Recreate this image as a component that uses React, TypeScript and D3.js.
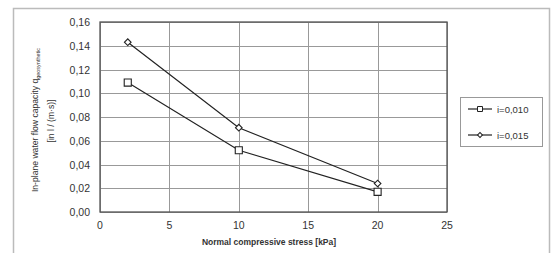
import React, { useEffect, useRef } from 'react'
import * as d3 from 'd3'

const stress = [2, 10, 20]
const flow010 = [0.109, 0.052, 0.017]
const flow015 = [0.143, 0.071, 0.024]
const seriesNames = ['i=0,010', 'i=0,015']
const xTicks = [0, 5, 10, 15, 20, 25]
const yTicks = [0, 0.02, 0.04, 0.06, 0.08, 0.1, 0.12, 0.14, 0.16]

const W = 552
const H = 253
const margin = { left: 100, right: 105, top: 22, bottom: 41 }
const FONT = 'Liberation Sans, Arial, sans-serif'
const INK = '#333'

export default function App() {
  const ref = useRef<SVGSVGElement>(null)

  useEffect(() => {
    const svg = d3.select(ref.current)
    svg.selectAll('*').remove()

    const x = d3.scaleLinear().domain([0, 25]).range([margin.left, W - margin.right])
    const y = d3.scaleLinear().domain([0, 0.16]).range([H - margin.bottom, margin.top])
    const fmt = (v: number) => d3.format('.2f')(v).replace('.', ',')

    svg.append('rect').attr('width', W).attr('height', H).attr('fill', '#fff')

    // scanned frame around the whole chart
    svg.append('rect')
      .attr('x', 13.5).attr('y', 8.5).attr('width', 536).attr('height', 250)
      .attr('fill', 'none').attr('stroke', '#bbb').attr('stroke-width', 1.5)

    // grid
    const g = svg.append('g')
    g.selectAll('line.gy').data(yTicks).join('line')
      .attr('x1', x(0)).attr('x2', x(25))
      .attr('y1', (d) => Math.round(y(d)) + 0.5).attr('y2', (d) => Math.round(y(d)) + 0.5)
      .attr('stroke', '#999').attr('stroke-width', 1)
    g.selectAll('line.gx').data(xTicks).join('line')
      .attr('y1', y(0)).attr('y2', y(0.16))
      .attr('x1', (d) => Math.round(x(d)) + 0.5).attr('x2', (d) => Math.round(x(d)) + 0.5)
      .attr('stroke', '#999').attr('stroke-width', 1)

    svg.append('rect')
      .attr('x', x(0)).attr('y', y(0.16))
      .attr('width', x(25) - x(0)).attr('height', y(0) - y(0.16))
      .attr('fill', 'none').attr('stroke', '#555').attr('stroke-width', 1.3)

    // tick labels
    svg.append('g').selectAll('text').data(yTicks).join('text')
      .attr('x', x(0) - 10).attr('y', (d) => y(d) + 4)
      .attr('text-anchor', 'end').attr('font-family', FONT).attr('font-size', 10.5)
      .attr('fill', INK).text(fmt)
    svg.append('g').selectAll('text').data(xTicks).join('text')
      .attr('x', (d) => x(d)).attr('y', y(0) + 17)
      .attr('text-anchor', 'middle').attr('font-family', FONT).attr('font-size', 10.5)
      .attr('fill', INK).text((d) => d)

    svg.append('text')
      .attr('x', 269).attr('y', H - 8)
      .attr('text-anchor', 'middle').attr('font-family', FONT).attr('font-size', 8.5)
      .attr('font-weight', 'bold').attr('fill', INK)
      .text('Normal compressive stress [kPa]')

    const yt = svg.append('text')
      .attr('transform', 'translate(38,120) rotate(-90)')
      .attr('text-anchor', 'middle').attr('font-family', FONT).attr('font-size', 8.6)
      .attr('fill', INK)
    yt.append('tspan').text('In-plane water flow capacity q')
    yt.append('tspan').attr('font-size', 5.5).attr('dy', 2).text('geosynthetic')
    svg.append('text')
      .attr('transform', 'translate(54,121) rotate(-90)')
      .attr('text-anchor', 'middle').attr('font-family', FONT).attr('font-size', 8.6)
      .attr('fill', INK).text('[in l / (m·s)]')

    const line = d3.line<number>().x((_, i) => x(stress[i])).y((d) => y(d))
    const series = [flow010, flow015]
    const square = d3.symbol().type(d3.symbolSquare).size(50)
    const diamond = d3.symbol().type(d3.symbolSquare).size(22)
    const squareSmall = d3.symbol().type(d3.symbolSquare).size(25)
    const diamondSmall = d3.symbol().type(d3.symbolSquare).size(12)
    const rot = (si: number) => (si === 0 ? '' : ' rotate(45)')

    series.forEach((vals, si) => {
      svg.append('path').attr('d', line(vals)).attr('fill', 'none')
        .attr('stroke', '#222').attr('stroke-width', 1.2)
      svg.append('g').selectAll('path').data(vals).join('path')
        .attr('d', si === 0 ? square() : diamond())
        .attr('transform', (d, i) => `translate(${x(stress[i])},${y(d)})${rot(si)}`)
        .attr('fill', '#fff').attr('stroke', '#222').attr('stroke-width', 1.1)
    })

    // legend
    const lg = svg.append('g')
    lg.append('rect').attr('x', 460.5).attr('y', 97.5).attr('width', 82).attr('height', 49)
      .attr('fill', '#fff').attr('stroke', '#999').attr('stroke-width', 1)
    seriesNames.forEach((name, i) => {
      const cy = 109 + i * 26
      lg.append('line').attr('x1', 468).attr('x2', 492).attr('y1', cy).attr('y2', cy)
        .attr('stroke', '#222').attr('stroke-width', 1.2)
      lg.append('path').attr('d', i === 0 ? squareSmall() : diamondSmall())
        .attr('transform', `translate(480,${cy})${rot(i)}`)
        .attr('fill', '#fff').attr('stroke', '#222').attr('stroke-width', 1)
      lg.append('text').attr('x', 497).attr('y', cy + 3.5)
        .attr('font-family', FONT).attr('font-size', 9.5).attr('fill', INK).text(name)
    })
  }, [])

  return (
    <svg ref={ref} width={W} height={H}
      style={{ position: 'absolute', left: 0, top: 0, display: 'block' }} />
  )
}
